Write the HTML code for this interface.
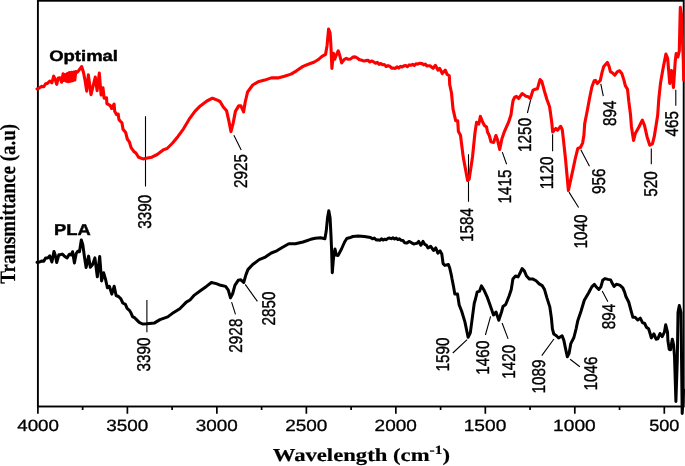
<!DOCTYPE html><html><head><meta charset="utf-8"><style>html,body{margin:0;padding:0;background:#fff;}svg{display:block;will-change:transform;}text{text-rendering:geometricPrecision;}</style></head><body><svg width="685" height="466" viewBox="0 0 685 466"><rect x="37.9" y="0.75" width="645.8" height="405.75" fill="none" stroke="#000" stroke-width="1.9"/>
<path d="M37.90 406.5V413.8M82.64 406.5V409.9M127.39 406.5V413.8M172.13 406.5V409.9M216.87 406.5V413.8M261.61 406.5V409.9M306.36 406.5V413.8M351.10 406.5V409.9M395.84 406.5V413.8M440.59 406.5V409.9M485.33 406.5V413.8M530.07 406.5V409.9M574.81 406.5V413.8M619.56 406.5V409.9M664.30 406.5V413.8" stroke="#000" stroke-width="1.7" fill="none"/>
<path d="M145.50 116.30L145.50 186.60M233.90 135.30L241.20 150.10M468.50 154.20L468.50 201.80M502.30 152.10L506.60 164.30M530.60 100.10L527.40 113.00M552.60 134.20L552.60 151.20M569.00 192.10L578.60 207.50M580.80 149.70L589.50 166.20M600.80 83.90L603.30 96.10M651.30 148.40L651.30 164.20M675.80 89.80L675.80 105.80M146.90 300.00L146.90 332.20M231.60 302.10L235.50 314.30M245.20 284.40L257.40 301.40M467.10 339.60L452.80 353.00M490.60 316.40L485.40 335.00M502.10 323.00L508.10 338.90M553.90 339.00L541.80 355.60M570.10 359.30L579.90 366.80M602.20 290.90L607.90 301.70" stroke="#000" stroke-width="1.1" fill="none"/>
<polyline points="37.00,262.20 39.00,262.20 42.00,261.00 43.80,261.30 45.60,258.00 47.70,258.00 49.80,255.90 51.90,262.00 54.00,251.40 55.20,255.00 56.70,262.50 58.90,254.70 60.70,254.70 62.30,254.00 64.20,255.90 67.10,257.90 69.30,254.20 71.10,255.00 72.60,251.70 74.40,263.00 76.20,253.50 77.70,251.30 79.50,251.70 81.30,240.00 82.80,244.80 84.60,257.90 86.10,267.40 88.60,256.10 90.30,267.30 92.60,264.50 94.90,257.90 97.30,276.70 99.70,256.40 101.60,281.00 103.60,272.80 105.50,279.10 107.40,287.80 109.40,286.30 111.80,294.10 114.20,286.30 116.10,295.50 118.50,296.50 120.90,298.90 122.80,303.00 125.40,304.30 127.10,308.30 129.40,310.30 131.05,313.10 132.70,316.90 134.35,317.50 136.00,319.10 139.20,322.40 142.50,324.00 146.90,323.70 154.60,322.90 160.00,319.60 167.70,316.90 172.10,313.60 179.80,308.70 186.30,302.10 190.00,300.00 194.40,295.10 201.00,290.20 206.40,286.40 211.40,282.50 216.30,283.60 220.70,285.30 225.60,286.40 228.30,290.20 230.50,297.90 232.70,293.50 234.90,285.30 238.20,280.30 240.90,279.80 243.70,282.50 245.90,274.90 247.90,269.60 252.70,264.50 259.20,259.60 264.70,257.40 271.30,253.00 276.80,250.80 282.20,247.50 288.80,243.70 295.40,243.70 303.00,242.00 310.70,239.30 315.30,238.30 320.50,237.80 324.90,238.70 326.20,231.30 327.50,218.10 328.80,210.70 330.10,218.10 331.00,235.60 331.60,250.00 332.30,272.70 333.60,256.90 335.00,249.00 336.30,255.10 338.00,255.60 341.50,249.00 344.60,242.00 346.80,238.50 349.40,237.80 352.90,236.50 358.20,236.10 364.30,236.50 370.50,237.60 372.40,238.85 374.30,238.00 376.20,239.95 378.10,239.80 379.75,240.35 381.40,238.80 383.05,240.05 384.70,239.20 386.35,239.77 388.00,238.25 389.65,238.12 391.30,238.70 392.93,237.80 394.57,239.00 396.20,238.10 397.83,239.53 399.47,238.87 401.10,240.30 402.93,240.53 404.77,242.87 406.60,243.10 409.40,241.40 412.10,243.10 413.75,244.05 415.40,243.60 417.05,243.20 418.70,241.40 420.90,245.30 423.00,241.40 424.67,244.30 426.33,245.10 428.00,248.00 430.70,246.40 433.50,250.40 435.70,247.90 437.90,253.10 440.10,250.90 441.80,254.00 443.10,263.60 444.90,265.40 448.40,264.50 449.70,268.00 451.50,275.90 452.00,278.80 453.70,287.50 454.80,294.10 457.50,294.10 459.20,305.00 461.60,311.00 464.90,321.90 468.10,337.20 470.30,332.90 472.50,316.40 474.30,303.00 475.50,299.00 477.20,291.90 479.40,291.40 481.40,285.90 483.80,289.70 487.10,296.80 490.40,306.10 493.50,315.00 496.00,312.00 498.80,320.30 501.50,312.00 503.00,306.50 505.70,304.50 509.00,296.30 511.20,289.70 512.90,279.00 515.50,276.00 518.10,276.90 520.30,272.50 522.10,268.60 524.30,270.80 526.50,276.00 529.50,279.10 533.00,279.10 536.10,280.80 539.20,283.90 542.20,285.60 544.40,289.20 547.00,298.10 549.80,306.90 551.40,317.90 552.40,328.80 553.80,334.00 556.40,335.80 558.60,338.00 562.10,335.80 563.80,340.10 565.60,348.90 567.30,356.80 569.10,353.30 570.80,343.60 573.90,337.50 576.10,328.80 577.70,321.10 581.00,311.30 584.30,300.30 588.70,292.70 591.80,286.90 594.40,284.30 596.60,287.30 598.80,289.50 600.90,286.90 602.70,280.30 604.90,278.60 608.00,279.40 610.60,279.90 612.80,284.30 614.10,286.50 616.30,284.30 619.80,285.10 622.80,287.80 624.60,292.10 625.90,296.50 628.70,302.00 631.10,310.80 632.90,317.30 635.10,317.30 637.70,320.00 640.30,318.20 642.50,322.60 644.70,323.50 646.50,327.40 648.60,328.70 650.40,334.50 651.30,337.90 653.90,333.90 656.10,339.20 657.80,338.80 660.00,333.50 662.20,336.60 664.40,332.20 665.70,324.80 667.50,332.00 667.90,340.50 669.20,349.30 670.50,349.70 672.30,339.20 673.60,344.90 674.50,356.30 675.90,401.50 677.30,360.00 678.00,312.50 679.30,305.50 681.00,312.50 682.20,413.50 683.50,390.00" fill="none" stroke="#000" stroke-width="3.0" stroke-linejoin="round" stroke-linecap="round"/>
<polyline points="37.00,88.90 38.40,88.50 41.40,86.40 43.80,86.70 45.60,83.70 47.40,83.40 49.80,81.00 51.90,82.80 53.70,76.20 54.90,78.60 56.70,84.30 58.20,78.00 60.00,77.70 61.60,82.20 63.10,73.80 64.20,80.50 65.20,74.50 66.30,81.20 67.40,73.50 68.40,81.80 69.40,72.60 70.50,81.30 71.60,72.20 72.70,80.80 73.80,72.00 74.80,80.00 75.80,71.60 77.00,72.40 78.30,71.20 81.60,66.60 83.40,72.00 85.00,80.10 86.70,91.10 88.35,74.90 91.00,94.60 95.30,77.10 97.10,90.60 99.30,73.10 101.10,95.00 103.00,87.80 104.10,98.20 106.50,97.80 106.90,103.70 110.30,105.70 111.70,108.50 114.10,104.00 114.70,111.20 116.50,114.60 118.20,114.00 118.90,119.40 120.60,121.50 122.00,122.90 123.00,129.30 125.70,132.60 127.30,139.00 129.50,142.20 131.10,147.60 133.80,151.40 135.90,153.00 138.60,157.30 143.00,158.90 146.30,158.30 151.80,157.20 157.20,154.50 163.80,149.60 167.10,148.50 172.60,143.00 178.00,136.40 183.50,128.80 189.20,119.20 194.90,111.40 200.30,105.90 206.90,101.00 212.40,98.20 216.80,99.90 220.00,101.50 223.30,107.00 226.60,110.80 228.80,120.70 231.00,131.60 233.20,122.90 235.40,111.40 238.70,105.90 240.90,105.90 243.60,111.90 245.20,102.00 247.60,92.00 252.70,85.00 258.10,81.80 264.70,80.10 271.30,77.90 277.90,77.90 284.40,76.30 291.00,74.10 296.50,70.80 303.00,66.40 309.60,63.70 314.40,62.00 318.00,59.80 322.00,56.30 325.60,54.30 327.10,45.20 328.60,29.00 330.10,33.10 330.90,45.20 331.90,68.40 333.40,53.30 334.70,59.30 336.20,55.30 338.20,50.80 339.70,55.30 341.70,62.90 344.30,59.30 346.30,58.30 348.50,59.30 350.70,58.90 352.90,57.10 355.10,56.85 357.30,58.00 359.50,59.75 361.70,60.10 363.85,61.05 366.00,60.60 367.95,60.25 369.90,62.00 371.85,60.95 373.80,62.00 375.54,63.24 377.28,62.38 379.02,64.32 380.76,63.46 382.50,64.70 384.33,64.55 386.17,66.50 388.00,65.65 389.83,66.20 391.67,68.15 393.50,68.00 395.24,68.48 396.98,66.86 398.72,68.04 400.46,66.42 402.20,66.90 403.96,65.88 405.72,65.56 407.48,66.64 409.24,64.92 411.00,65.30 412.65,64.33 414.30,65.45 415.95,63.77 417.60,64.20 419.80,63.20 422.00,63.60 423.62,64.85 425.25,64.00 426.88,65.95 428.50,65.80 430.00,65.70 433.10,68.30 435.30,65.30 437.90,70.10 439.60,68.30 442.30,73.60 445.30,70.10 447.10,74.40 449.30,75.80 449.70,84.50 451.50,93.00 453.00,108.90 454.70,116.40 455.70,120.70 457.70,120.70 458.40,131.50 460.50,135.20 463.20,156.90 467.60,180.50 469.20,179.00 472.50,156.90 475.00,132.50 476.60,122.30 478.80,124.00 480.40,116.40 482.50,121.80 484.60,125.70 486.50,126.80 487.60,132.20 489.30,135.50 491.00,141.80 493.70,142.40 495.90,135.50 497.50,139.90 499.70,149.50 501.90,138.80 504.60,131.10 508.50,122.40 511.00,114.70 512.20,106.00 513.10,100.50 514.60,97.30 516.40,96.30 518.60,98.50 522.10,93.60 526.00,96.30 528.20,96.70 530.40,98.50 533.00,90.10 535.20,89.30 537.40,88.80 540.00,79.60 541.80,81.40 544.40,91.00 547.00,99.80 549.50,106.50 550.50,113.10 551.80,122.80 552.70,132.00 554.00,130.60 555.80,128.50 557.50,130.20 560.60,126.30 562.30,129.80 563.80,143.10 565.50,158.90 568.40,190.50 573.00,169.40 575.30,158.50 577.80,148.40 580.40,147.50 582.60,143.10 583.90,135.30 584.70,123.60 587.30,110.50 589.60,98.00 592.00,86.50 594.20,80.80 595.50,80.40 597.30,83.50 600.30,80.40 602.10,72.10 603.80,66.40 607.30,62.40 609.10,66.40 610.40,71.60 612.60,73.00 614.80,75.10 617.40,71.60 619.60,70.80 621.80,73.40 624.00,80.40 625.30,85.60 627.50,89.20 628.80,101.40 630.50,114.50 631.40,126.40 633.60,140.40 635.30,133.40 638.80,127.30 642.30,120.10 644.50,125.30 647.10,136.90 649.80,145.20 652.40,143.90 654.20,136.90 655.90,126.40 657.70,115.00 658.80,99.00 660.60,82.40 663.10,68.30 665.90,54.00 667.60,58.00 668.90,73.40 669.70,83.50 671.50,70.50 673.50,87.50 675.20,61.50 676.20,53.50 677.90,57.00 679.30,50.80 680.30,7.20 681.50,15.00 682.50,40.00 683.30,60.00 683.70,80.00" fill="none" stroke="#f00" stroke-width="3.1" stroke-linejoin="round" stroke-linecap="round"/>
<text x="0" y="0" font-family="'Liberation Sans', sans-serif" font-weight="bold" font-size="16" stroke="#000" stroke-width="0.45" stroke-linejoin="round" transform="matrix(1.1554,0.0000,0.0000,0.9508,49.1797,60.6721)">Optimal</text>
<text x="0" y="0" font-family="'Liberation Sans', sans-serif" font-weight="bold" font-size="16" stroke="#000" stroke-width="0.45" stroke-linejoin="round" transform="matrix(1.1484,0.0000,0.0000,0.9871,54.1165,235.0010)">PLA</text>
<text x="0" y="0" font-family="'Liberation Sans', sans-serif" font-weight="normal" font-size="16" stroke="#000" stroke-width="0.3" stroke-linejoin="round" transform="matrix(1.1712,0.0000,0.0000,1.0176,17.2072,430.7467)">4000</text>
<text x="0" y="0" font-family="'Liberation Sans', sans-serif" font-weight="normal" font-size="16" stroke="#000" stroke-width="0.3" stroke-linejoin="round" transform="matrix(1.1797,0.0000,0.0000,1.0176,106.3361,430.7467)">3500</text>
<text x="0" y="0" font-family="'Liberation Sans', sans-serif" font-weight="normal" font-size="16" stroke="#000" stroke-width="0.3" stroke-linejoin="round" transform="matrix(1.1798,0.0000,0.0000,1.0176,195.7607,430.7467)">3000</text>
<text x="0" y="0" font-family="'Liberation Sans', sans-serif" font-weight="normal" font-size="16" stroke="#000" stroke-width="0.3" stroke-linejoin="round" transform="matrix(1.1870,0.0000,0.0000,1.0176,285.1839,430.7467)">2500</text>
<text x="0" y="0" font-family="'Liberation Sans', sans-serif" font-weight="normal" font-size="16" stroke="#000" stroke-width="0.3" stroke-linejoin="round" transform="matrix(1.1870,0.0000,0.0000,1.0176,374.6097,430.7467)">2000</text>
<text x="0" y="0" font-family="'Liberation Sans', sans-serif" font-weight="normal" font-size="16" stroke="#000" stroke-width="0.3" stroke-linejoin="round" transform="matrix(1.1971,0.0000,0.0000,1.0176,463.6811,430.7467)">1500</text>
<text x="0" y="0" font-family="'Liberation Sans', sans-serif" font-weight="normal" font-size="16" stroke="#000" stroke-width="0.3" stroke-linejoin="round" transform="matrix(1.1971,0.0000,0.0000,1.0176,553.1070,430.7467)">1000</text>
<text x="0" y="0" font-family="'Liberation Sans', sans-serif" font-weight="normal" font-size="16" stroke="#000" stroke-width="0.3" stroke-linejoin="round" transform="matrix(1.1314,0.0000,0.0000,1.0176,649.1638,430.7467)">500</text>
<text x="0" y="0" font-family="'Liberation Serif', serif" font-weight="bold" font-size="19.4" stroke="#000" stroke-width="0.2" stroke-linejoin="round" transform="matrix(1.1694,0.0000,0.0000,0.9424,272.7076,461.0083)">Wavelength (cm<tspan dy='-7.5' font-size='13.2'>-1</tspan><tspan dy='7.5' font-size='19.4'>)</tspan></text>
<text x="0" y="0" font-family="'Liberation Serif', serif" font-weight="bold" font-size="19.4" stroke="#000" stroke-width="0.2" stroke-linejoin="round" transform="matrix(0.0000,-0.9785,1.1268,0.0000,15.4676,283.7481)">Transmittance (a.u)</text>
<text x="0" y="0" font-family="'Liberation Sans', sans-serif" font-weight="normal" font-size="16" stroke="#000" stroke-width="0.35" stroke-linejoin="round" transform="matrix(0.0000,-0.9563,1.1567,0.0000,150.6500,228.7750)">3390</text>
<text x="0" y="0" font-family="'Liberation Sans', sans-serif" font-weight="normal" font-size="16" stroke="#000" stroke-width="0.35" stroke-linejoin="round" transform="matrix(0.0000,-0.9563,1.1567,0.0000,247.3500,187.9250)">2925</text>
<text x="0" y="0" font-family="'Liberation Sans', sans-serif" font-weight="normal" font-size="16" stroke="#000" stroke-width="0.35" stroke-linejoin="round" transform="matrix(0.0000,-0.9563,1.1567,0.0000,473.4000,242.0750)">1584</text>
<text x="0" y="0" font-family="'Liberation Sans', sans-serif" font-weight="normal" font-size="16" stroke="#000" stroke-width="0.35" stroke-linejoin="round" transform="matrix(0.0000,-0.9563,1.1567,0.0000,511.3000,203.4500)">1415</text>
<text x="0" y="0" font-family="'Liberation Sans', sans-serif" font-weight="normal" font-size="16" stroke="#000" stroke-width="0.35" stroke-linejoin="round" transform="matrix(0.0000,-0.9563,1.1567,0.0000,530.8500,151.9000)">1250</text>
<text x="0" y="0" font-family="'Liberation Sans', sans-serif" font-weight="normal" font-size="16" stroke="#000" stroke-width="0.35" stroke-linejoin="round" transform="matrix(0.0000,-0.9563,1.1567,0.0000,552.5500,189.3250)">1120</text>
<text x="0" y="0" font-family="'Liberation Sans', sans-serif" font-weight="normal" font-size="16" stroke="#000" stroke-width="0.35" stroke-linejoin="round" transform="matrix(0.0000,-0.9563,1.1567,0.0000,586.7000,248.6000)">1040</text>
<text x="0" y="0" font-family="'Liberation Sans', sans-serif" font-weight="normal" font-size="16" stroke="#000" stroke-width="0.35" stroke-linejoin="round" transform="matrix(0.0000,-0.9563,1.1567,0.0000,605.1500,193.9750)">956</text>
<text x="0" y="0" font-family="'Liberation Sans', sans-serif" font-weight="normal" font-size="16" stroke="#000" stroke-width="0.35" stroke-linejoin="round" transform="matrix(0.0000,-0.9563,1.1567,0.0000,615.6500,126.0750)">894</text>
<text x="0" y="0" font-family="'Liberation Sans', sans-serif" font-weight="normal" font-size="16" stroke="#000" stroke-width="0.35" stroke-linejoin="round" transform="matrix(0.0000,-0.9563,1.1567,0.0000,657.1500,196.7750)">520</text>
<text x="0" y="0" font-family="'Liberation Sans', sans-serif" font-weight="normal" font-size="16" stroke="#000" stroke-width="0.35" stroke-linejoin="round" transform="matrix(0.0000,-0.9563,1.1567,0.0000,678.0000,136.6000)">465</text>
<text x="0" y="0" font-family="'Liberation Sans', sans-serif" font-weight="normal" font-size="16" stroke="#000" stroke-width="0.35" stroke-linejoin="round" transform="matrix(0.0000,-0.9563,1.1567,0.0000,149.7500,371.4500)">3390</text>
<text x="0" y="0" font-family="'Liberation Sans', sans-serif" font-weight="normal" font-size="16" stroke="#000" stroke-width="0.35" stroke-linejoin="round" transform="matrix(0.0000,-0.9563,1.1567,0.0000,241.7500,352.6500)">2928</text>
<text x="0" y="0" font-family="'Liberation Sans', sans-serif" font-weight="normal" font-size="16" stroke="#000" stroke-width="0.35" stroke-linejoin="round" transform="matrix(0.0000,-0.9563,1.1567,0.0000,275.4500,325.4250)">2850</text>
<text x="0" y="0" font-family="'Liberation Sans', sans-serif" font-weight="normal" font-size="16" stroke="#000" stroke-width="0.35" stroke-linejoin="round" transform="matrix(0.0000,-0.9563,1.1567,0.0000,449.2000,371.4500)">1590</text>
<text x="0" y="0" font-family="'Liberation Sans', sans-serif" font-weight="normal" font-size="16" stroke="#000" stroke-width="0.35" stroke-linejoin="round" transform="matrix(0.0000,-0.9563,1.1567,0.0000,488.7500,374.6500)">1460</text>
<text x="0" y="0" font-family="'Liberation Sans', sans-serif" font-weight="normal" font-size="16" stroke="#000" stroke-width="0.35" stroke-linejoin="round" transform="matrix(0.0000,-0.9563,1.1567,0.0000,514.6500,378.7500)">1420</text>
<text x="0" y="0" font-family="'Liberation Sans', sans-serif" font-weight="normal" font-size="16" stroke="#000" stroke-width="0.35" stroke-linejoin="round" transform="matrix(0.0000,-0.9563,1.1567,0.0000,544.9000,393.5000)">1089</text>
<text x="0" y="0" font-family="'Liberation Sans', sans-serif" font-weight="normal" font-size="16" stroke="#000" stroke-width="0.35" stroke-linejoin="round" transform="matrix(0.0000,-0.9563,1.1567,0.0000,596.8000,390.4750)">1046</text>
<text x="0" y="0" font-family="'Liberation Sans', sans-serif" font-weight="normal" font-size="16" stroke="#000" stroke-width="0.35" stroke-linejoin="round" transform="matrix(0.0000,-0.9563,1.1567,0.0000,615.4500,329.3000)">894</text></svg></body></html>
